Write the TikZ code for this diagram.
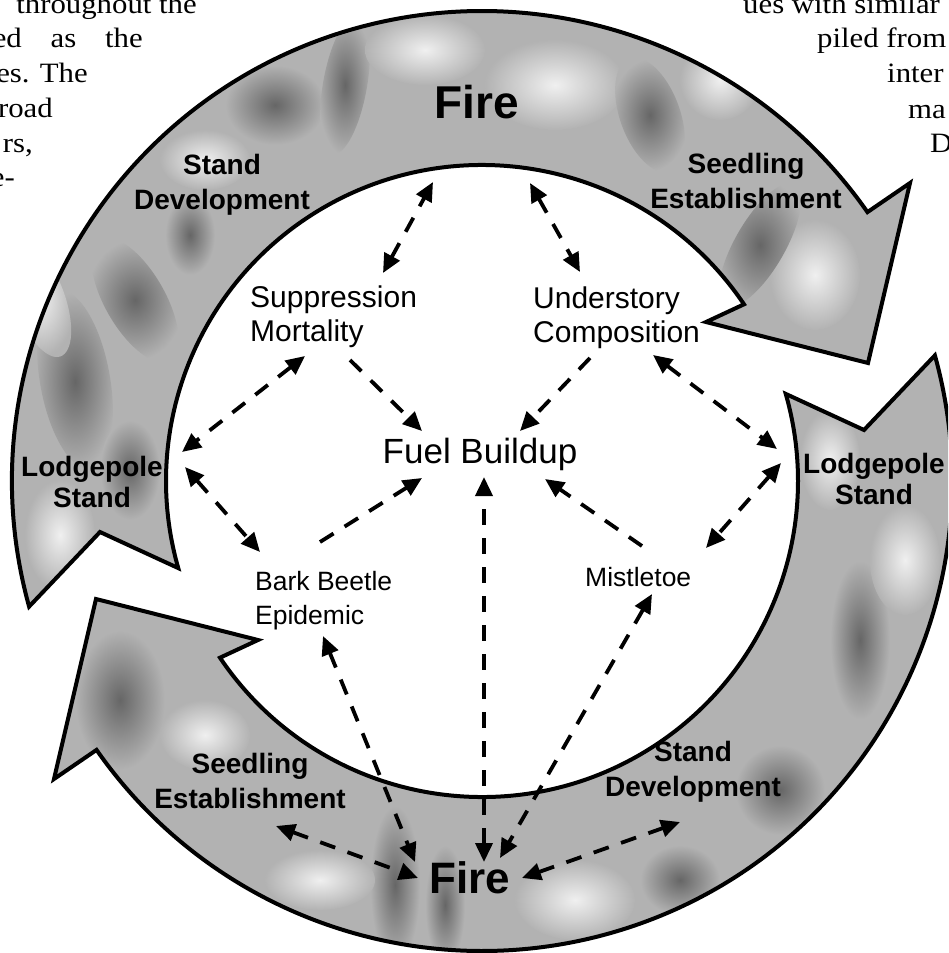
\documentclass[tikz,border=0pt]{standalone}
\usepackage{fontspec}
\setmainfont{Liberation Serif}
\setsansfont{Liberation Sans}
\newfontfamily\pagefont[FakeStretch=1.1]{Liberation Serif}
\usetikzlibrary{arrows.meta}

% outline of the upper curved arrow (Stand Development -> Fire -> Seedling Establishment)
\newcommand\upperband{(29.1,606.6) arc[start angle=164.5, end angle=325.1, radius=470]
  -- (910,183) -- (868,363) -- (706,322) -- (744.0,304.3)
  arc[start angle=326, end angle=164, radius=316] -- (100,532) -- cycle}
% outline of the lower curved arrow, the same shape turned half a turn
\newcommand\lowerband{(934.9,355.4) arc[start angle=344.5, end angle=505.1, radius=470]
  -- (54,779) -- (96,599) -- (258,640) -- (220,657.7)
  arc[start angle=146, end angle=-16, radius=316] -- (864,430) -- cycle}

\begin{document}
\begin{tikzpicture}[x=1pt,y=-1pt,
  bandfill/.style={fill=black!30},
  bandline/.style={draw=black, line width=4pt},
  darkspot/.style={inner color=black!60, outer color=black!30},
  lightspot/.style={inner color=black!6, outer color=black!30},
  bandlabel/.style={font=\sffamily\bfseries\fontsize{28}{35}\selectfont, align=center, inner sep=0pt},
  firelabel/.style={font=\sffamily\bfseries\fontsize{46}{50}\selectfont, inner sep=0pt},
  factor/.style={font=\sffamily\fontsize{30}{34}\selectfont, align=left, inner sep=0pt},
  smallfactor/.style={factor, font=\sffamily\fontsize{26.5}{34}\selectfont},
  pagetext/.style={font=\pagefont\fontsize{28}{35}\selectfont, inner sep=0pt},
  link/.style={line width=3.8pt, dash pattern=on 16pt off 13pt},
  tip/.tip={Triangle[length=19pt,width=17pt]},
  oneway/.style={link, -tip},
  twoway/.style={link, tip-tip}]

\useasboundingbox (0,0) rectangle (948,953);
\clip (0,0) rectangle (948,953);
\fill[white] (0,0) rectangle (948,953);

% running text of the page around the figure
\node[pagetext, anchor=base east] (l1) at (197,13) {throughout the};
\node[pagetext, anchor=base east] (l2) at (143,47) {\makebox[150pt][s]{ed as the}};
\node[pagetext, anchor=base east] (l3) at (88,82) {es. The};
\node[pagetext, anchor=base east] (l4) at (53,117) {road};
\node[pagetext, anchor=base east] (l5) at (33,152) {rs,};
\node[pagetext, anchor=base east] (l6) at (15,186) {e-};
\node[pagetext, anchor=base west] (r1) at (743,13) {ues with similar};
\node[pagetext, anchor=base west] (r2) at (817,47) {piled from};
\node[pagetext, anchor=base west] (r3) at (887,82) {inter};
\node[pagetext, anchor=base west] (r4) at (908,118) {ma};
\node[pagetext, anchor=base west] (r5) at (930,152) {D};

% the two curved arrows, grey with mottled texture
\fill[bandfill] \upperband;
\fill[bandfill] \lowerband;
\begin{scope}
  \clip \upperband;
  \shade[darkspot] (75,380) ellipse[x radius=35, y radius=90, rotate=10];
  \shade[darkspot] (135,300) ellipse[x radius=30, y radius=70, rotate=30];
  \shade[lightspot] (40,300) ellipse[x radius=25, y radius=60, rotate=20];
  \shade[darkspot] (190,235) ellipse[x radius=25, y radius=40];
  \shade[darkspot] (275,105) ellipse[x radius=50, y radius=40];
  \shade[darkspot] (345,85) ellipse[x radius=22, y radius=70, rotate=-10];
  \shade[lightspot] (425,50) ellipse[x radius=60, y radius=35];
  \shade[lightspot] (555,85) ellipse[x radius=70, y radius=45];
  \shade[darkspot] (650,115) ellipse[x radius=30, y radius=60, rotate=20];
  \shade[lightspot] (720,80) ellipse[x radius=40, y radius=40];
  \shade[lightspot] (815,275) ellipse[x radius=45, y radius=55];
  \shade[darkspot] (760,245) ellipse[x radius=25, y radius=70, rotate=-30];
  \shade[lightspot] (60,535) ellipse[x radius=35, y radius=55];
  \shade[lightspot] (205,160) ellipse[x radius=45, y radius=30];
  \shade[darkspot] (130,470) ellipse[x radius=30, y radius=50];
\end{scope}
\begin{scope}
  \clip \lowerband;
  \shade[darkspot] (120,700) ellipse[x radius=45, y radius=70];
  \shade[lightspot] (205,735) ellipse[x radius=45, y radius=35];
  \shade[darkspot] (395,885) ellipse[x radius=25, y radius=80];
  \shade[darkspot] (445,905) ellipse[x radius=20, y radius=60];
  \shade[lightspot] (575,900) ellipse[x radius=60, y radius=40];
  \shade[darkspot] (860,640) ellipse[x radius=30, y radius=80];
  \shade[lightspot] (905,560) ellipse[x radius=35, y radius=55];
  \shade[darkspot] (780,790) ellipse[x radius=45, y radius=45];
  \shade[lightspot] (320,880) ellipse[x radius=55, y radius=30];
  \shade[darkspot] (680,880) ellipse[x radius=40, y radius=35];
  \shade[lightspot] (830,460) ellipse[x radius=30, y radius=50];
\end{scope}
\draw[bandline] \upperband;
\draw[bandline] \lowerband;

% labels on the arrows
\node[firelabel, anchor=base] (fireTop) at (477,118) {Fire};
\node[firelabel, font=\sffamily\bfseries\fontsize{44}{48}\selectfont, anchor=base] (fireBot) at (470,893) {Fire};
\node[bandlabel] (standTop) at (222,184.5) {Stand\\Development};
\node[bandlabel] (seedTop) at (746,181) {Seedling\\Establishment};
\node[bandlabel, font=\sffamily\bfseries\fontsize{28}{31}\selectfont] (lodgeLeft) at (92,482) {Lodgepole\\Stand};
\node[bandlabel, font=\sffamily\bfseries\fontsize{28}{31}\selectfont] (lodgeRight) at (874,479) {Lodgepole\\Stand};
\node[bandlabel] (seedBot) at (250,780.5) {Seedling\\Establishment};
\node[bandlabel] (standBot) at (693,772) {Stand\\Development};

% factors inside the ring
\node[factor, anchor=north west] (supp) at (250,286) {Suppression\\Mortality};
\node[factor, anchor=north west] (under) at (533,287) {Understory\\Composition};
\node[factor, font=\sffamily\fontsize{35}{40}\selectfont, anchor=base] (fuel) at (480,463) {Fuel Buildup};
\node[smallfactor, anchor=north west] (beetle) at (255,571) {Bark Beetle\\Epidemic};
\node[smallfactor, anchor=base west] (mistle) at (585,586) {Mistletoe};

% ends of the connectors
\coordinate (suppUp) at (383,273);   \coordinate (fireTopL) at (433,182);
\coordinate (fireTopR) at (530,183); \coordinate (underUp) at (580,272);
\coordinate (suppDown) at (350,360); \coordinate (fuelNW) at (422,431);
\coordinate (underDown) at (590,358);\coordinate (fuelNE) at (520,431);
\coordinate (beetleUp) at (320,542); \coordinate (fuelSW) at (422,478);
\coordinate (fireBotC) at (484,862); \coordinate (fuelS) at (484,477);
\coordinate (mistleUp) at (642,546); \coordinate (fuelSE) at (545,479);
\coordinate (suppLeft) at (305,356); \coordinate (lodgeLeftU) at (182,452);
\coordinate (lodgeLeftD) at (185,467);\coordinate (beetleLeft) at (260,552);
\coordinate (underRight) at (653,355);\coordinate (lodgeRightU) at (777,449);
\coordinate (lodgeRightD) at (781,463);\coordinate (mistleRight) at (706,548);
\coordinate (beetleDown) at (323,636);\coordinate (fireBotL) at (415,862);
\coordinate (mistleDown) at (652,594);\coordinate (fireBotR) at (500,858);
\coordinate (seedBotR) at (276,826); \coordinate (fireBotW) at (418,878);
\coordinate (fireBotE) at (522,878); \coordinate (standBotL) at (680,822);

% influences
\draw[twoway] (suppUp) -- (fireTopL);
\draw[twoway] (fireTopR) -- (underUp);
\draw[oneway] (suppDown) -- (fuelNW);
\draw[oneway] (underDown) -- (fuelNE);
\draw[oneway] (beetleUp) -- (fuelSW);
\draw[twoway] (fireBotC) -- (fuelS);
\draw[oneway] (mistleUp) -- (fuelSE);
\draw[twoway] (suppLeft) -- (lodgeLeftU);
\draw[twoway] (lodgeLeftD) -- (beetleLeft);
\draw[twoway] (underRight) -- (lodgeRightU);
\draw[twoway] (lodgeRightD) -- (mistleRight);
\draw[twoway] (beetleDown) -- (fireBotL);
\draw[twoway] (mistleDown) -- (fireBotR);
\draw[twoway] (seedBotR) -- (fireBotW);
\draw[twoway] (fireBotE) -- (standBotL);
\end{tikzpicture}
\end{document}
